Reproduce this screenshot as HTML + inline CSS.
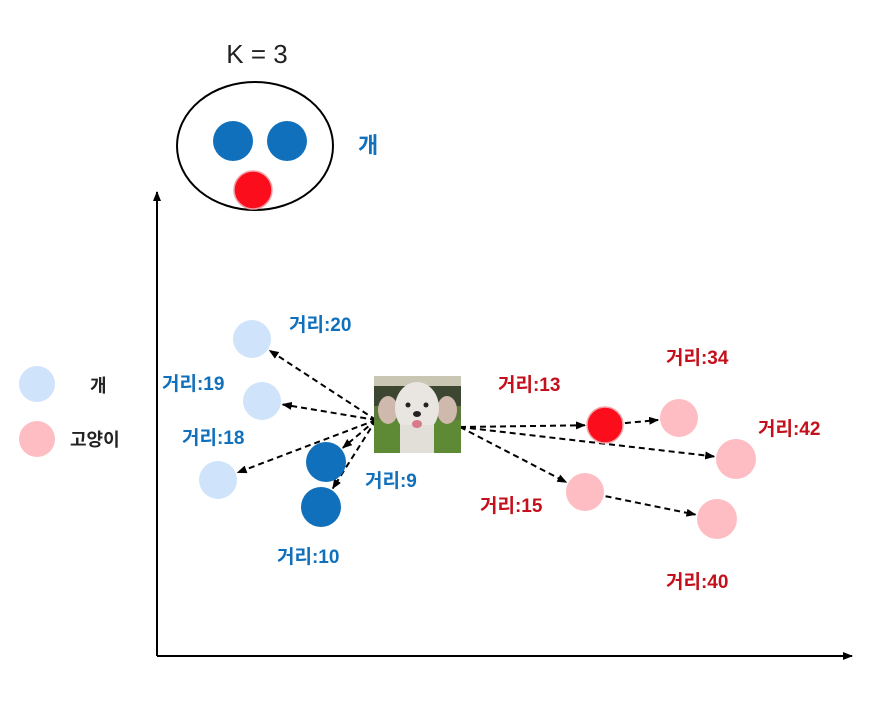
<!DOCTYPE html>
<html><head><meta charset="utf-8"><style>
body{margin:0;background:#fff;}
svg text{font-family:"Liberation Sans","Noto Sans CJK KR",sans-serif;}
</style></head><body>
<svg id="c" width="890" height="696" viewBox="0 0 890 696">
<defs>
<marker id="ah" markerWidth="10" markerHeight="8" refX="9" refY="4" orient="auto" markerUnits="userSpaceOnUse"><path d="M0,0 L10,4 L0,8 Z" fill="#000"/></marker>
<clipPath id="dogclip"><rect x="374" y="376" width="87" height="77"/></clipPath>
</defs>
<g>
<line x1="157" y1="656" x2="157" y2="192" stroke="#000" stroke-width="2" marker-end="url(#ah)"/>
<line x1="157" y1="656" x2="852" y2="656" stroke="#000" stroke-width="2" marker-end="url(#ah)"/>
</g>
<text x="257" y="63" font-size="26" text-anchor="middle" fill="#222">K = 3</text>
<ellipse cx="255" cy="146" rx="78" ry="64" fill="#fff" stroke="#000" stroke-width="2"/>
<circle cx="233" cy="141" r="20" fill="#1170bb"/>
<circle cx="287" cy="141" r="20" fill="#1170bb"/>
<circle cx="253" cy="190" r="19" fill="#fb0d1c" stroke="#f2a0a6" stroke-width="1.5"/>
<text x="358" y="153" font-size="22" font-weight="bold" fill="#1170bb">개</text>
<g>
<circle cx="37" cy="384" r="18" fill="#cfe3fb"/>
<text x="90" y="392" font-size="18" font-weight="bold" fill="#222">개</text>
<circle cx="37" cy="439" r="18" fill="#fdbdc2"/>
<text x="70" y="446" font-size="18" font-weight="bold" fill="#222">고양이</text>
</g>
<g id="arrows"></g>
<g id="pts"></g>
<g clip-path="url(#dogclip)">
<rect x="374" y="376" width="87" height="77" fill="#5d7a3c"/>
<rect x="374" y="376" width="87" height="30" fill="#3c4630"/>
<rect x="374" y="376" width="87" height="10" fill="#c9c6b4"/>
<rect x="374" y="420" width="87" height="33" fill="#5f8a35"/>
<ellipse cx="388" cy="410" rx="10" ry="14" fill="#cfb9ad"/>
<ellipse cx="447" cy="410" rx="10" ry="14" fill="#cfb9ad"/>
<ellipse cx="417" cy="408" rx="22" ry="26" fill="#e9e6e1"/>
<rect x="400" y="425" width="34" height="28" fill="#e2ded8"/>
<circle cx="408" cy="405" r="2.5" fill="#222"/><circle cx="426" cy="405" r="2.5" fill="#222"/>
<ellipse cx="417" cy="414" rx="4" ry="3" fill="#222"/>
<ellipse cx="417" cy="424" rx="5" ry="4" fill="#d97a8a"/>
</g>
<g id="labels"></g>
</svg>
<script>
const pointX=[252,262,218,326,321,605,679,736,585,717];
const pointY=[339,401,480,462,507,425,418,459,492,519];
const pointR=[19,19,19,20,20,18,19,20,19,20];
const pointClass=["dogLight","dogLight","dogLight","dog","dog","cat","catLight","catLight","catLight","catLight"];
const distances=[20,19,18,9,10,13,34,42,15,40];
const labelX=[289,162,182,365,277,498,666,758,480,666];
const labelY=[331,390,444,487,563,391,364,435,512,588];
const arrowFrom=[-1,-1,-1,-1,-1,-1,5,-1,-1,8];
const fills={dogLight:"#cfe3fb",dog:"#1170bb",cat:"#fb0d1c",catLight:"#fdbdc2"};
const NS="http://www.w3.org/2000/svg";
const arrows=document.getElementById('arrows'),pts=document.getElementById('pts'),labels=document.getElementById('labels');
for(let i=0;i<pointX.length;i++){
  let fx,fy;
  if(arrowFrom[i]>=0){fx=pointX[arrowFrom[i]];fy=pointY[arrowFrom[i]];}
  else if(pointX[i]<417){fx=376;fy=420;} else {fx=460;fy=427;}
  const dx=pointX[i]-fx,dy=pointY[i]-fy,d=Math.hypot(dx,dy);
  let sx=fx,sy=fy;
  if(arrowFrom[i]>=0){const r0=pointR[arrowFrom[i]]+2;sx=fx+dx/d*r0;sy=fy+dy/d*r0;}
  const r=pointR[i]+2;
  const l=document.createElementNS(NS,'line');
  
  
  l.setAttribute('x1',sx);l.setAttribute('y1',sy);
  l.setAttribute('x2',pointX[i]-dx/d*r);l.setAttribute('y2',pointY[i]-dy/d*r);
  l.setAttribute('stroke','#000');l.setAttribute('stroke-width','2');l.setAttribute('stroke-dasharray','6,4');
  l.setAttribute('marker-end','url(#ah)');
  arrows.appendChild(l);
  const c=document.createElementNS(NS,'circle');
  
  
  c.setAttribute('cx',pointX[i]);c.setAttribute('cy',pointY[i]);c.setAttribute('r',pointR[i]);
  c.setAttribute('fill',fills[pointClass[i]]);
  if(pointClass[i]=='cat'){c.setAttribute('stroke','#f2a0a6');c.setAttribute('stroke-width','1.5');}
  pts.appendChild(c);
  const t=document.createElementNS(NS,'text');
  
  
  t.setAttribute('x',labelX[i]);t.setAttribute('y',labelY[i]);
  t.setAttribute('font-size','19');t.setAttribute('font-weight','bold');
  t.setAttribute('fill',pointClass[i].startsWith('dog')?'#1170bb':'#c4101c');
  t.textContent='거리:'+distances[i];
  labels.appendChild(t);
}
</script>
</body></html>
